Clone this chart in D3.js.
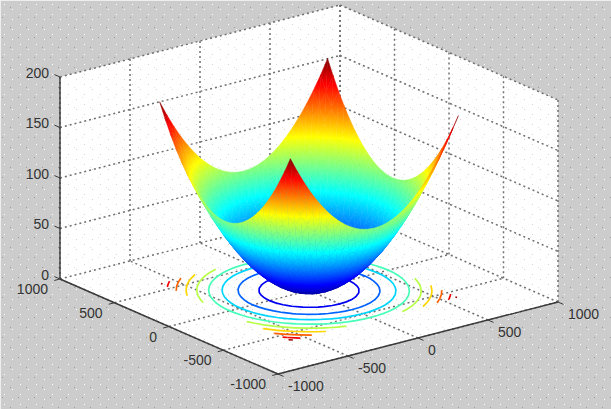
<!DOCTYPE html>
<html><head><meta charset="utf-8">
<script src="https://cdn.jsdelivr.net/npm/d3@7/dist/d3.min.js"></script>
<style>html,body{margin:0;padding:0;background:#ccc}svg{display:block}text{font-family:"Liberation Sans",Arial,sans-serif;font-size:14px;fill:#333}</style>
</head><body><script>
const xTicks=[-1000,-500,0,500,1000];
const yTicks=[-1000,-500,0,500,1000];
const zTicks=[0,50,100,150,200];
const contourLevels=[20,40,60,80,100,120,140,160,175];
const gridCoords=[-600,-550,-500,-450,-400,-350,-300,-250,-200,-150,-100,-50,0,50,100,150,200,250,300,350,400,450,500,550,600];
// one quadrant of the height table read from the symmetric bowl (rows/cols run -600..0)
const zQuadrant=[
[180,165.6,152.5,140.6,130,120.6,112.5,105.6,100,95.6,92.5,90.6,90],
[165.6,151.2,138.1,126.2,115.6,106.2,98.1,91.2,85.6,81.2,78.1,76.2,75.6],
[152.5,138.1,125,113.1,102.5,93.1,85,78.1,72.5,68.1,65,63.1,62.5],
[140.6,126.2,113.1,101.2,90.6,81.2,73.1,66.2,60.6,56.2,53.1,51.2,50.6],
[130,115.6,102.5,90.6,80,70.6,62.5,55.6,50,45.6,42.5,40.6,40],
[120.6,106.2,93.1,81.2,70.6,61.2,53.1,46.2,40.6,36.2,33.1,31.2,30.6],
[112.5,98.1,85,73.1,62.5,53.1,45,38.1,32.5,28.1,25,23.1,22.5],
[105.6,91.2,78.1,66.2,55.6,46.2,38.1,31.2,25.6,21.2,18.1,16.2,15.6],
[100,85.6,72.5,60.6,50,40.6,32.5,25.6,20,15.6,12.5,10.6,10],
[95.6,81.2,68.1,56.2,45.6,36.2,28.1,21.2,15.6,11.2,8.1,6.2,5.6],
[92.5,78.1,65,53.1,42.5,33.1,25,18.1,12.5,8.1,5,3.1,2.5],
[90.6,76.2,63.1,51.2,40.6,31.2,23.1,16.2,10.6,6.2,3.1,1.2,0.6],
[90,75.6,62.5,50.6,40,30.6,22.5,15.6,10,5.6,2.5,0.6,0]];
const jetDomain=[0,22.5,67.5,112.5,157.5,180];
const jetRange=["#000090","#0000ff","#00ffff","#ffff00","#ff0000","#800000"];

const W=611,H=409,n=gridCoords.length;
const jet=d3.scaleLinear().domain(jetDomain).range(jetRange);
const mid=(n-1)/2, q=i=>i<=mid?i:n-1-i;
const Z=d3.range(n).map(j=>d3.range(n).map(i=>zQuadrant[q(j)][q(i)]));

// oblique projection of the 3-D box
const ORIGIN=[278,374];
const xPx=d3.scaleLinear([-1000,1000],[0,280]), xPy=d3.scaleLinear([-1000,1000],[0,-72]);
const yPx=d3.scaleLinear([-1000,1000],[0,-218]), yPy=d3.scaleLinear([-1000,1000],[0,-95]);
const zPy=d3.scaleLinear([0,200],[0,-202]);
const P=(x,y,z)=>[ORIGIN[0]+xPx(x)+yPx(y), ORIGIN[1]+xPy(x)+yPy(y)+zPy(z)];

const svg=d3.select("body").append("svg").attr("width",W).attr("height",H);
const defs=svg.append("defs");
function dots(id,bg,fg,fg2){
  const p=defs.append("pattern").attr("id",id).attr("patternUnits","userSpaceOnUse").attr("width",16).attr("height",20);
  p.append("rect").attr("width",16).attr("height",20).attr("fill",bg);
  [[4,4],[12,9],[4,14],[12,19]].forEach(d=>p.append("rect").attr("x",d[0]).attr("y",d[1]).attr("width",1).attr("height",1).attr("fill",fg));
  [[10,7],[2,17]].forEach(d=>p.append("rect").attr("x",d[0]).attr("y",d[1]).attr("width",1).attr("height",1).attr("fill",fg2));
}
dots("bgDots","#cccccc","#ffffff","#9a9a9a");
dots("plotDots","#ffffff","#d4d4d4","#e0e0e0");
svg.append("rect").attr("width",W).attr("height",H).attr("fill","url(#bgDots)");
svg.append("rect").attr("width",W).attr("height",1).attr("fill","#eee");
svg.append("rect").attr("width",1).attr("height",H).attr("fill","#eee");

const line=d3.line();
// walls + floor
const hull=[P(-1000,1000,0),P(-1000,1000,200),P(1000,1000,200),P(1000,-1000,200),P(1000,-1000,0),P(-1000,-1000,0)];
svg.append("path").attr("d",line(hull)+"Z").attr("fill","url(#plotDots)");

// grid
const grid=[];
xTicks.forEach(x=>{grid.push([[x,-1000,0],[x,1000,0]]);grid.push([[x,1000,0],[x,1000,200]]);});
yTicks.forEach(y=>{grid.push([[-1000,y,0],[1000,y,0]]);grid.push([[1000,y,0],[1000,y,200]]);});
zTicks.forEach(z=>{if(z>0){grid.push([[-1000,1000,z],[1000,1000,z]]);grid.push([[1000,1000,z],[1000,-1000,z]]);}});
svg.append("g").selectAll("path").data(grid).join("path")
  .attr("d",d=>line(d.map(p=>P(...p)))).attr("fill","none").attr("stroke","#707070")
  .attr("stroke-width",1.5).attr("stroke-dasharray","2 3");

// contours projected on the floor
const flat=[];Z.forEach(r=>r.forEach(v=>flat.push(v)));
const cScale=d3.scaleLinear([0.5,n-0.5],[gridCoords[0],gridCoords[n-1]]);
const contourGen=d3.contours().size([n,n]).thresholds(contourLevels);
const arcs=[];
contourGen(flat).forEach(c=>{
  c.coordinates.forEach(poly=>poly.forEach(ring=>{
    let cur=[];
    ring.forEach(pt=>{
      const out=pt[0]<=0||pt[0]>=n||pt[1]<=0||pt[1]>=n;
      if(out){if(cur.length>1)arcs.push({level:c.value,pts:cur});cur=[];}
      else cur.push(P(cScale(pt[0]),cScale(pt[1]),0));
    });
    if(cur.length>1)arcs.push({level:c.value,pts:cur});
  }));
});
svg.append("g").selectAll("path").data(arcs).join("path")
  .attr("d",d=>line(d.pts)).attr("fill","none").attr("stroke",d=>jet(d.level)).attr("stroke-width",1.7);

// surface: triangles with gouraud-like gradients through the jet map
const tris=[];
for(let j=0;j<n-1;j++)for(let i=0;i<n-1;i++){
  const a=[gridCoords[i],gridCoords[j],Z[j][i]],b=[gridCoords[i+1],gridCoords[j],Z[j][i+1]],
        c=[gridCoords[i+1],gridCoords[j+1],Z[j+1][i+1]],e=[gridCoords[i],gridCoords[j+1],Z[j+1][i]];
  tris.push([a,b,c]);tris.push([a,c,e]);
}
const depth=t=>d3.mean(t,p=>0.1006*p[0]+0.1315*p[1]-0.36*p[2]);
tris.sort((s,t)=>depth(t)-depth(s));
const gSurf=svg.append("g");
tris.forEach((t,k)=>{
  const s=t.map(p=>P(p[0],p[1],p[2])),zs=t.map(p=>p[2]);
  const ax=s[1][0]-s[0][0],ay=s[1][1]-s[0][1],bx=s[2][0]-s[0][0],by=s[2][1]-s[0][1];
  const dz1=zs[1]-zs[0],dz2=zs[2]-zs[0],det=ax*by-ay*bx;
  const zMin=d3.min(zs),zMax=d3.max(zs);
  let paint=jet((zMin+zMax)/2);
  if(Math.abs(det)>1e-6&&zMax>zMin){
    const gx=(dz1*by-dz2*ay)/det,gy=(ax*dz2-bx*dz1)/det,g2=gx*gx+gy*gy;
    const at=v=>[s[0][0]+gx*(v-zs[0])/g2,s[0][1]+gy*(v-zs[0])/g2];
    const A=at(zMin),B=at(zMax),id="t"+k;
    const lg=defs.append("linearGradient").attr("id",id).attr("gradientUnits","userSpaceOnUse")
      .attr("x1",A[0]).attr("y1",A[1]).attr("x2",B[0]).attr("y2",B[1]);
    const stops=[zMin,...jetDomain.filter(v=>v>zMin&&v<zMax),zMax];
    stops.forEach(v=>lg.append("stop").attr("offset",(v-zMin)/(zMax-zMin)).attr("stop-color",jet(v)));
    paint="url(#"+id+")";
  }
  gSurf.append("path").attr("d",line(s)+"Z").attr("fill",paint).attr("stroke",paint).attr("stroke-width",0.5);
});

// axes
const axisColor="#3a3a3a";
const axes=[[[-1000,1000,0],[-1000,-1000,0]],[[-1000,-1000,0],[1000,-1000,0]],[[-1000,1000,0],[-1000,1000,200]]];
svg.append("g").selectAll("path").data(axes).join("path")
  .attr("d",d=>line(d.map(p=>P(...p)))).attr("stroke",axisColor).attr("stroke-width",1.4).attr("fill","none");
const tickLen=6;
const tx=d=>P(d,-1000,0), ty=d=>P(-1000,d,0), tz=d=>P(-1000,1000,d);
const xDir=[218,95],yDir=[-280,72],zDir=[-218,-95];
const unit=v=>{const m=Math.hypot(v[0],v[1]);return [v[0]/m*tickLen,v[1]/m*tickLen];};
function ticks(vals,f,dir){
  const u=unit(dir);
  svg.append("g").selectAll("path").data(vals).join("path")
   .attr("d",d=>{const p=f(d);return line([p,[p[0]+u[0],p[1]+u[1]]]);})
   .attr("stroke",axisColor).attr("stroke-width",1).attr("fill","none");
}
ticks(xTicks,tx,xDir);ticks(yTicks,ty,yDir);ticks(zTicks,tz,zDir);

// labels
svg.append("g").selectAll("text").data(zTicks).join("text").text(d=>d)
  .attr("text-anchor","end").attr("x",d=>tz(d)[0]-11).attr("y",d=>tz(d)[1]+0.5);
svg.append("g").selectAll("text").data(yTicks).join("text").text(d=>d)
  .attr("text-anchor","end").attr("x",d=>ty(d)[0]-12).attr("y",d=>ty(d)[1]+15);
svg.append("g").selectAll("text").data(xTicks).join("text").text(d=>d)
  .attr("x",d=>tx(d)[0]+10).attr("y",d=>tx(d)[1]+16.5);
</script></body></html>
